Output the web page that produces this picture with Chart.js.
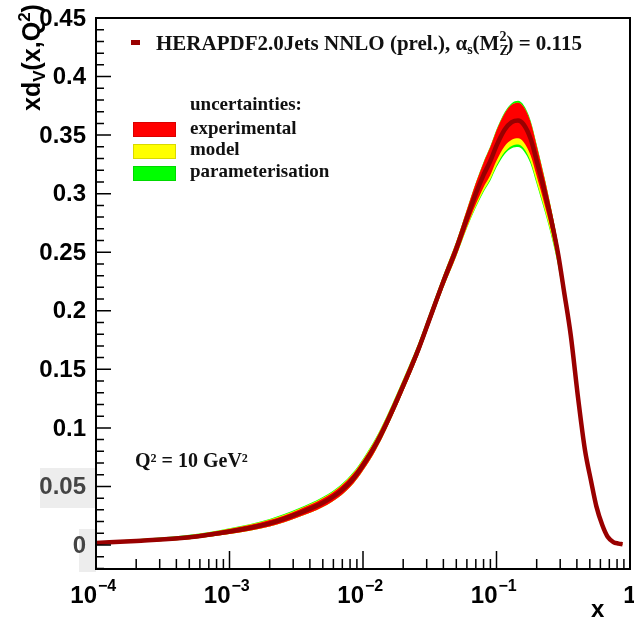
<!DOCTYPE html>
<html>
<head>
<meta charset="utf-8">
<script src="https://cdn.jsdelivr.net/npm/chart.js"></script>
<style>
  html, body { margin: 0; padding: 0; background: #fff; }
  canvas { display: block; }
</style>
</head>
<body>
<canvas id="pdf" width="634" height="624"></canvas>
<script>
// x points and central xd_v values
const xValues = [1e-4, 2e-4, 5e-4, 1e-3, 2e-3, 3.3e-3, 5e-3, 6.8e-3, 8.5e-3, 0.01,
  0.0125, 0.015, 0.018, 0.022, 0.026, 0.032, 0.04, 0.05, 0.06, 0.07,
  0.08, 0.09, 0.1, 0.115, 0.13, 0.145, 0.16, 0.18, 0.2, 0.23,
  0.26, 0.29, 0.32, 0.36, 0.41, 0.46, 0.51, 0.56, 0.62, 0.68,
  0.75, 0.82, 0.88]
const central = [0.0018, 0.0035, 0.0066, 0.0115, 0.0185, 0.027, 0.036, 0.046, 0.057, 0.068,
  0.086, 0.104, 0.124, 0.147, 0.167, 0.195, 0.225, 0.253, 0.279, 0.300,
  0.316, 0.328, 0.341, 0.3545, 0.361, 0.3625, 0.359, 0.347, 0.328, 0.301,
  0.275, 0.248, 0.217, 0.179, 0.124, 0.081, 0.055, 0.033, 0.017, 0.007,
  0.0025, 0.0012, 0.0006]
// uncertainty half widths (cumulative: exp, exp+model, exp+model+param)
const expErr = [0.0010, 0.0012, 0.0016, 0.0022, 0.0028, 0.0032, 0.0036, 0.0039, 0.0042, 0.0044,
  0.0046, 0.0047, 0.0048, 0.0048, 0.0048, 0.0048, 0.0052, 0.0060, 0.0072, 0.0090,
  0.0105, 0.0120, 0.0130, 0.0140, 0.0150, 0.0152, 0.0150, 0.0142, 0.0130, 0.0110,
  0.0090, 0.0075, 0.0062, 0.0050, 0.0040, 0.0032, 0.0025, 0.0020, 0.0015, 0.0010,
  0.0007, 0.0005, 0.0004]
const modelUp = [0.0010, 0.0013, 0.0018, 0.0025, 0.0033, 0.0038, 0.0043, 0.0046, 0.0049, 0.0051,
  0.0052, 0.0053, 0.0053, 0.0052, 0.0051, 0.0050, 0.0053, 0.0060, 0.0072, 0.0090,
  0.0105, 0.0120, 0.0130, 0.0140, 0.0150, 0.0152, 0.0150, 0.0142, 0.0130, 0.0110,
  0.0090, 0.0075, 0.0062, 0.0050, 0.0040, 0.0032, 0.0025, 0.0020, 0.0015, 0.0010,
  0.0007, 0.0005, 0.0004]
const modelDown = [0.0010, 0.0012, 0.0016, 0.0022, 0.0028, 0.0032, 0.0036, 0.0039, 0.0042, 0.0044,
  0.0046, 0.0047, 0.0048, 0.0048, 0.0048, 0.0048, 0.0052, 0.0062, 0.0080, 0.0110,
  0.0135, 0.0155, 0.0170, 0.0190, 0.0202, 0.0205, 0.0203, 0.0195, 0.0180, 0.0150,
  0.0120, 0.0095, 0.0078, 0.0062, 0.0046, 0.0035, 0.0027, 0.0021, 0.0015, 0.0010,
  0.0007, 0.0005, 0.0004]
const paramUp = [0.0011, 0.0015, 0.0021, 0.0029, 0.0038, 0.0044, 0.0049, 0.0052, 0.0055, 0.0057,
  0.0057, 0.0057, 0.0057, 0.0056, 0.0055, 0.0054, 0.0056, 0.0063, 0.0075, 0.0094,
  0.0110, 0.0126, 0.0137, 0.0150, 0.0162, 0.0168, 0.0165, 0.0155, 0.0140, 0.0118,
  0.0096, 0.0080, 0.0066, 0.0053, 0.0042, 0.0033, 0.0026, 0.0020, 0.0015, 0.0010,
  0.0007, 0.0005, 0.0004]
const paramDown = [0.0010, 0.0012, 0.0016, 0.0022, 0.0028, 0.0032, 0.0036, 0.0039, 0.0042, 0.0044,
  0.0046, 0.0047, 0.0048, 0.0048, 0.0048, 0.0048, 0.0053, 0.0064, 0.0085, 0.0118,
  0.0145, 0.0168, 0.0185, 0.0208, 0.0222, 0.0227, 0.0225, 0.0215, 0.0198, 0.0165,
  0.0132, 0.0105, 0.0086, 0.0068, 0.0050, 0.0037, 0.0028, 0.0022, 0.0016, 0.0010,
  0.0007, 0.0005, 0.0004]

const xDecades = [-4, -3, -2, -1, 0]
const yMajor = [0, 0.05, 0.1, 0.15, 0.2, 0.25, 0.3, 0.35, 0.4, 0.45]

const SANS = '"Liberation Sans", Arial, Helvetica, sans-serif'
const SERIF = '"Liberation Serif", "Times New Roman", Times, serif'

const curve = (offs, sign) => xValues.map((x, i) => ({ x: x, y: central[i] + sign * offs[i] }))

const band = (data, color, fill) => ({
  data: data,
  borderWidth: 0,
  borderColor: color,
  backgroundColor: color,
  pointRadius: 0,
  cubicInterpolationMode: 'monotone',
  fill: fill
})

// draws a list of text pieces one after another (for sub/superscripts)
const rich = (ctx, x, y, parts) => {
  parts.forEach(p => {
    ctx.font = p.font
    ctx.fillText(p.t, x, y + (p.dy || 0))
    if (!p.stay) x += ctx.measureText(p.t).width
  })
  return x
}

const decorations = {
  id: 'decorations',
  beforeDraw(chart) {
    const ctx = chart.ctx
    // light grey patches behind two of the tick labels, as in the picture
    ctx.save()
    ctx.fillStyle = '#ededed'
    ctx.fillRect(40, 468, 56, 40)
    ctx.fillRect(79, 529, 17, 43)
    ctx.restore()
  },
  afterDraw(chart) {
    const { ctx, chartArea: a, scales: { x, y } } = chart
    ctx.save()
    ctx.strokeStyle = '#000'
    ctx.lineWidth = 2
    ctx.strokeRect(a.left, a.top, a.right - a.left, a.bottom - a.top)

    // y ticks pointing into the frame
    ctx.lineWidth = 1.5
    ctx.beginPath()
    for (let i = -2; i <= 45; i++) {
      const py = y.getPixelForValue(i / 100)
      const len = i % 5 === 0 ? 15 : 8
      ctx.moveTo(a.left, py)
      ctx.lineTo(a.left + len, py)
    }
    // x ticks
    xDecades.forEach(d => {
      if (d === 0) return
      for (let m = 1; m <= 9; m++) {
        const px = x.getPixelForValue(m * Math.pow(10, d))
        const len = m === 1 ? 18 : 10
        ctx.moveTo(px, a.bottom)
        ctx.lineTo(px, a.bottom - len)
      }
    })
    ctx.stroke()

    // y tick labels
    ctx.font = 'bold 24px ' + SANS
    ctx.textAlign = 'right'
    ctx.textBaseline = 'middle'
    yMajor.forEach(v => {
      ctx.fillStyle = (v === 0 || v === 0.05) ? '#444' : '#000'
      ctx.fillText(String(v), a.left - 10, y.getPixelForValue(v) + 1)
    })

    // x tick labels 10^n
    ctx.fillStyle = '#000'
    ctx.textBaseline = 'alphabetic'
    xDecades.forEach(d => {
      const px = x.getPixelForValue(Math.pow(10, d))
      if (d === 0) {
        ctx.font = 'bold 24px ' + SANS
        ctx.textAlign = 'center'
        ctx.fillText('1', px, 603)
        return
      }
      ctx.font = 'bold 24px ' + SANS
      ctx.textAlign = 'right'
      ctx.fillText('10', px + 1, 603)
      ctx.font = 'bold 16px ' + SANS
      ctx.textAlign = 'left'
      ctx.fillText('\u2212' + Math.abs(d), px + 2, 591)
    })
    ctx.textAlign = 'left'

    // axis titles
    ctx.font = 'bold 24px ' + SANS
    ctx.fillText('x', 591, 617)
    ctx.save()
    ctx.translate(40, 111)
    ctx.rotate(-Math.PI / 2)
    rich(ctx, 0, 0, [
      { t: 'xd', font: 'bold 25px ' + SANS },
      { t: 'V', font: 'bold 17px ' + SANS, dy: 5 },
      { t: '(x,Q', font: 'bold 25px ' + SANS },
      { t: '2', font: 'bold 17px ' + SANS, dy: -10 },
      { t: ')', font: 'bold 25px ' + SANS }
    ])
    ctx.restore()

    // legend
    ctx.fillStyle = '#990000'
    ctx.fillRect(131, 40, 9, 5)
    ctx.fillStyle = '#111'
    const big = 'bold 21px ' + SERIF
    const small = 'bold 14px ' + SERIF
    rich(ctx, 156, 50, [
      { t: 'HERAPDF2.0Jets NNLO (prel.), ', font: big },
      { t: '\u03b1', font: big },
      { t: 's', font: small, dy: 4 },
      { t: '(M', font: big },
      { t: 'Z', font: small, dy: 5, stay: true },
      { t: '2', font: small, dy: -9 },
      { t: ') = 0.115', font: big }
    ])

    ctx.font = 'bold 19px ' + SERIF
    ctx.fillText('uncertainties:', 190, 110)
    const rows = [['#ff0000', 'experimental', 122, 134], ['#ffff00', 'model', 144, 155], ['#00ff00', 'parameterisation', 166, 177]]
    rows.forEach(r => {
      ctx.fillStyle = r[0]
      ctx.fillRect(133, r[2], 43, 15)
      ctx.strokeStyle = 'rgba(0,0,0,0.15)'
      ctx.lineWidth = 1
      ctx.strokeRect(133.5, r[2] + 0.5, 42, 14)
      ctx.fillStyle = '#111'
      ctx.fillText(r[1], 190, r[3])
    })

    ctx.font = 'bold 20px ' + SERIF
    ctx.fillText('Q\u00b2 = 10 GeV\u00b2', 135, 467)
    ctx.restore()
  }
}

const ctx = document.getElementById('pdf').getContext('2d')
const chart = new Chart(ctx, {
  type: 'line',
  data: {
    datasets: [
      { data: curve(central.map(() => 0), 0), borderColor: '#990000', borderWidth: 4.5, pointRadius: 0, cubicInterpolationMode: 'monotone', fill: false },
      band(curve(expErr, 1), '#ff0000', '+1'),
      band(curve(expErr, -1), '#ff0000', false),
      band(curve(modelUp, 1), '#ffff00', '+1'),
      band(curve(modelDown, -1), '#ffff00', false),
      band(curve(paramUp, 1), '#00ff00', '+1'),
      band(curve(paramDown, -1), '#00ff00', false)
    ]
  },
  options: {
    responsive: false,
    animation: false,
    devicePixelRatio: 1,
    layout: { padding: { top: 18, right: 4, left: 0, bottom: 0 } },
    plugins: {
      legend: { display: false },
      tooltip: { enabled: false }
    },
    scales: {
      x: {
        type: 'logarithmic',
        min: 1e-4,
        max: 1,
        grid: { display: false },
        border: { display: false },
        ticks: { display: false },
        afterFit: scale => { scale.height = 55 }
      },
      y: {
        type: 'linear',
        min: -0.0205,
        max: 0.45,
        grid: { display: false },
        border: { display: false },
        ticks: { display: false },
        afterFit: scale => { scale.width = 96 }
      }
    }
  },
  plugins: [decorations]
})
</script>
</body>
</html>
